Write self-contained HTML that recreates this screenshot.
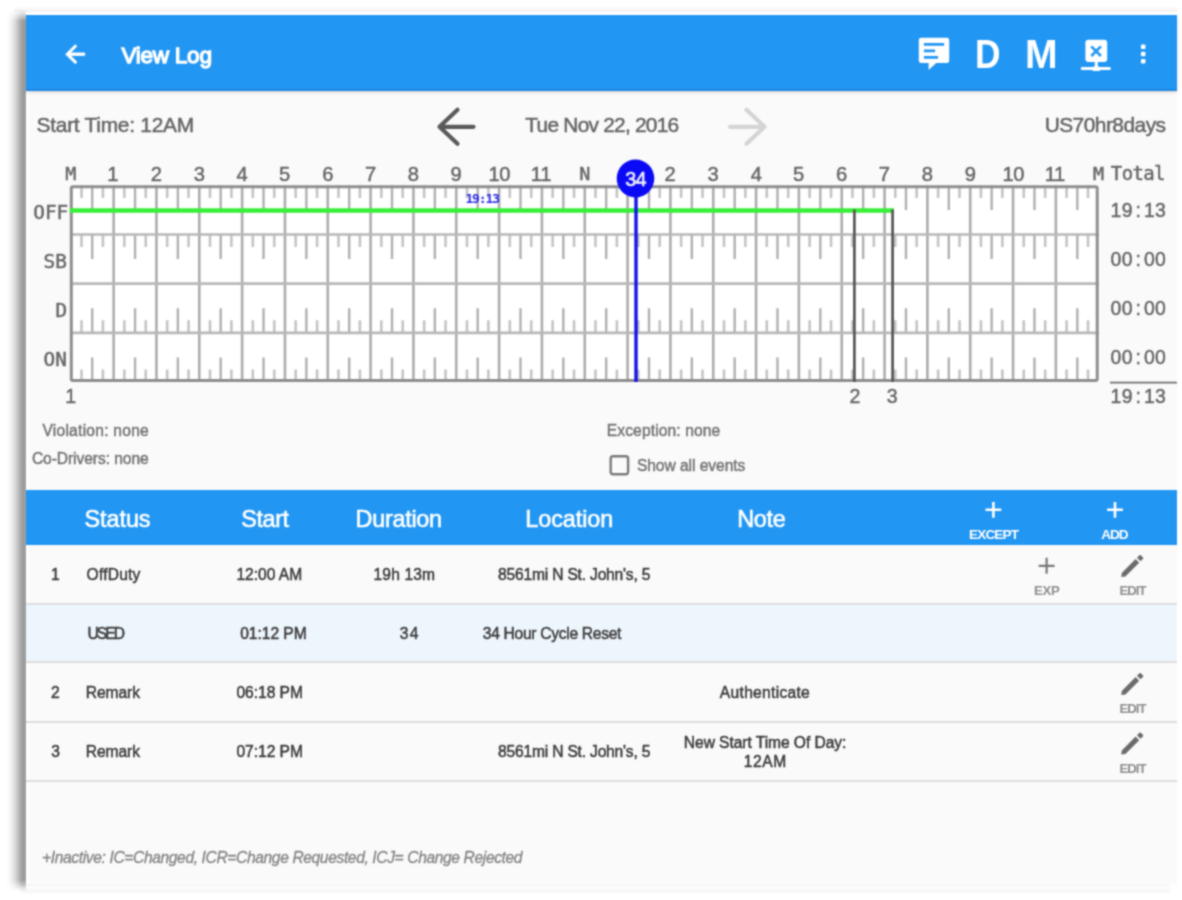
<!DOCTYPE html>
<html lang="en"><head><meta charset="utf-8"><title>View Log</title>
<meta name="viewport" content="width=1182, initial-scale=1">
<style>
*{box-sizing:border-box;margin:0;padding:0}
html,body{width:1182px;height:900px;background:#fff;overflow:hidden}
body{position:relative;font-family:"Liberation Sans",sans-serif;color:#333}
#app{position:absolute;left:0;top:0;width:1182px;height:900px;overflow:hidden;filter:url(#soft)}
.abs{position:absolute}
.t{position:absolute;white-space:nowrap;line-height:1}
.m{font-family:"DejaVu Sans Mono","Liberation Mono",monospace}
.t>i{display:inline-block;text-align:center;font-style:normal}
.b{font-weight:bold}
.i{font-style:italic}
.w{color:#fff}
.ms{-webkit-text-stroke:.45px}
.is{-webkit-text-stroke:.45px}
.bd{-webkit-text-stroke:.5px}
.hs{-webkit-text-stroke:.6px}
.ds{-webkit-text-stroke:.5px}
#shl{position:absolute;left:6px;top:10px;width:20px;height:881px;
  background:linear-gradient(to right,rgba(0,0,0,0) 0%,rgba(0,0,0,.03) 20%,rgba(0,0,0,.14) 45%,rgba(0,0,0,.33) 72%,rgba(0,0,0,.40) 88%,rgba(0,0,0,.36) 100%);
  -webkit-mask-image:linear-gradient(to bottom,transparent 0,#000 11px,#000 870px,transparent 881px);
  mask-image:linear-gradient(to bottom,transparent 0,#000 11px,#000 870px,transparent 881px)}
#sht{position:absolute;left:14px;top:6px;width:1163px;height:6px;background:linear-gradient(to bottom,rgba(0,0,0,0),rgba(0,0,0,.06))}
#shb{position:absolute;left:20px;top:883px;width:1150px;height:12px;
  background:linear-gradient(to bottom,rgba(0,0,0,.02) 0,rgba(0,0,0,.045) 18%,rgba(0,0,0,0) 38%,rgba(0,0,0,.04) 58%,rgba(0,0,0,0) 100%)}
#frame{position:absolute;left:26px;top:12px;width:1151.4px;height:871.5px;background:#fff}
#content{position:absolute;left:28.5px;top:90px;width:1148.6px;height:793.5px;background:#fafafa}
#bar{position:absolute;left:26px;top:14.6px;width:1151.4px;height:76px;background:#2196f3;box-shadow:0 1.5px 3px rgba(60,20,0,.16),inset 0 -3px 2px -1px rgba(0,0,60,.10)}
#thead{position:absolute;left:26px;top:489.6px;width:1151.4px;height:55px;background:#2196f3}
.row{position:absolute;left:26px;width:1151.4px;border-bottom:2px solid #dedede}
</style></head><body>
<svg width="0" height="0" style="position:absolute"><defs><filter id="soft" x="0" y="0" width="100%" height="100%" color-interpolation-filters="sRGB"><feConvolveMatrix order="5" kernelMatrix="0.0002 0.0033 0.0081 0.0033 0.0002 0.0033 0.0479 0.1164 0.0479 0.0033 0.0081 0.1164 0.2831 0.1164 0.0081 0.0033 0.0479 0.1164 0.0479 0.0033 0.0002 0.0033 0.0081 0.0033 0.0002" edgeMode="duplicate" preserveAlpha="false"/></filter></defs></svg>
<div id="app">
<div id="shl"></div><div id="sht"></div><div id="shb"></div>
<div id="frame"></div><div id="content"></div>
<div id="bar"></div>
<div id="thead"></div>
<div class="row" style="top:544.6px;height:60.2px"></div>
<div class="row" style="top:604.8px;height:58px;background:#eef6fd"></div>
<div class="row" style="top:662.8px;height:59.8px"></div>
<div class="row" style="top:722.6px;height:59.4px"></div>
<svg class="abs" style="left:0;top:0" width="1182" height="900" viewBox="0 0 1182 900">
<rect x="69.8" y="185.3" width="1028.92" height="196.8" fill="#fff"/>
<path d="M81.51 185.3v12.6M102.92 185.3v12.6M124.34 185.3v12.6M145.75 185.3v12.6M167.17 185.3v12.6M188.58 185.3v12.6M210 185.3v12.6M231.41 185.3v12.6M252.83 185.3v12.6M274.24 185.3v12.6M295.66 185.3v12.6M317.07 185.3v12.6M338.49 185.3v12.6M359.9 185.3v12.6M381.32 185.3v12.6M402.73 185.3v12.6M424.15 185.3v12.6M445.56 185.3v12.6M466.98 185.3v12.6M488.39 185.3v12.6M509.81 185.3v12.6M531.22 185.3v12.6M552.64 185.3v12.6M574.05 185.3v12.6M595.47 185.3v12.6M616.88 185.3v12.6M638.3 185.3v12.6M659.71 185.3v12.6M681.13 185.3v12.6M702.54 185.3v12.6M723.96 185.3v12.6M745.37 185.3v12.6M766.79 185.3v12.6M788.2 185.3v12.6M809.62 185.3v12.6M831.03 185.3v12.6M852.45 185.3v12.6M873.86 185.3v12.6M895.28 185.3v12.6M916.69 185.3v12.6M938.11 185.3v12.6M959.52 185.3v12.6M980.94 185.3v12.6M1002.35 185.3v12.6M1023.77 185.3v12.6M1045.18 185.3v12.6M1066.6 185.3v12.6M1088.01 185.3v12.6M81.51 234.5v12.6M102.92 234.5v12.6M124.34 234.5v12.6M145.75 234.5v12.6M167.17 234.5v12.6M188.58 234.5v12.6M210 234.5v12.6M231.41 234.5v12.6M252.83 234.5v12.6M274.24 234.5v12.6M295.66 234.5v12.6M317.07 234.5v12.6M338.49 234.5v12.6M359.9 234.5v12.6M381.32 234.5v12.6M402.73 234.5v12.6M424.15 234.5v12.6M445.56 234.5v12.6M466.98 234.5v12.6M488.39 234.5v12.6M509.81 234.5v12.6M531.22 234.5v12.6M552.64 234.5v12.6M574.05 234.5v12.6M595.47 234.5v12.6M616.88 234.5v12.6M638.3 234.5v12.6M659.71 234.5v12.6M681.13 234.5v12.6M702.54 234.5v12.6M723.96 234.5v12.6M745.37 234.5v12.6M766.79 234.5v12.6M788.2 234.5v12.6M809.62 234.5v12.6M831.03 234.5v12.6M852.45 234.5v12.6M873.86 234.5v12.6M895.28 234.5v12.6M916.69 234.5v12.6M938.11 234.5v12.6M959.52 234.5v12.6M980.94 234.5v12.6M1002.35 234.5v12.6M1023.77 234.5v12.6M1045.18 234.5v12.6M1066.6 234.5v12.6M1088.01 234.5v12.6M81.51 332.9v-12.6M102.92 332.9v-12.6M124.34 332.9v-12.6M145.75 332.9v-12.6M167.17 332.9v-12.6M188.58 332.9v-12.6M210 332.9v-12.6M231.41 332.9v-12.6M252.83 332.9v-12.6M274.24 332.9v-12.6M295.66 332.9v-12.6M317.07 332.9v-12.6M338.49 332.9v-12.6M359.9 332.9v-12.6M381.32 332.9v-12.6M402.73 332.9v-12.6M424.15 332.9v-12.6M445.56 332.9v-12.6M466.98 332.9v-12.6M488.39 332.9v-12.6M509.81 332.9v-12.6M531.22 332.9v-12.6M552.64 332.9v-12.6M574.05 332.9v-12.6M595.47 332.9v-12.6M616.88 332.9v-12.6M638.3 332.9v-12.6M659.71 332.9v-12.6M681.13 332.9v-12.6M702.54 332.9v-12.6M723.96 332.9v-12.6M745.37 332.9v-12.6M766.79 332.9v-12.6M788.2 332.9v-12.6M809.62 332.9v-12.6M831.03 332.9v-12.6M852.45 332.9v-12.6M873.86 332.9v-12.6M895.28 332.9v-12.6M916.69 332.9v-12.6M938.11 332.9v-12.6M959.52 332.9v-12.6M980.94 332.9v-12.6M1002.35 332.9v-12.6M1023.77 332.9v-12.6M1045.18 332.9v-12.6M1066.6 332.9v-12.6M1088.01 332.9v-12.6M81.51 382.1v-12.6M102.92 382.1v-12.6M124.34 382.1v-12.6M145.75 382.1v-12.6M167.17 382.1v-12.6M188.58 382.1v-12.6M210 382.1v-12.6M231.41 382.1v-12.6M252.83 382.1v-12.6M274.24 382.1v-12.6M295.66 382.1v-12.6M317.07 382.1v-12.6M338.49 382.1v-12.6M359.9 382.1v-12.6M381.32 382.1v-12.6M402.73 382.1v-12.6M424.15 382.1v-12.6M445.56 382.1v-12.6M466.98 382.1v-12.6M488.39 382.1v-12.6M509.81 382.1v-12.6M531.22 382.1v-12.6M552.64 382.1v-12.6M574.05 382.1v-12.6M595.47 382.1v-12.6M616.88 382.1v-12.6M638.3 382.1v-12.6M659.71 382.1v-12.6M681.13 382.1v-12.6M702.54 382.1v-12.6M723.96 382.1v-12.6M745.37 382.1v-12.6M766.79 382.1v-12.6M788.2 382.1v-12.6M809.62 382.1v-12.6M831.03 382.1v-12.6M852.45 382.1v-12.6M873.86 382.1v-12.6M895.28 382.1v-12.6M916.69 382.1v-12.6M938.11 382.1v-12.6M959.52 382.1v-12.6M980.94 382.1v-12.6M1002.35 382.1v-12.6M1023.77 382.1v-12.6M1045.18 382.1v-12.6M1066.6 382.1v-12.6M1088.01 382.1v-12.6" stroke="#c4c4c4" stroke-width="2.6" fill="none"/>
<path d="M92.22 185.3v24.6M135.05 185.3v24.6M177.88 185.3v24.6M220.7 185.3v24.6M263.53 185.3v24.6M306.37 185.3v24.6M349.19 185.3v24.6M392.02 185.3v24.6M434.86 185.3v24.6M477.69 185.3v24.6M520.51 185.3v24.6M563.34 185.3v24.6M606.17 185.3v24.6M649 185.3v24.6M691.83 185.3v24.6M734.66 185.3v24.6M777.49 185.3v24.6M820.32 185.3v24.6M863.15 185.3v24.6M905.98 185.3v24.6M948.81 185.3v24.6M991.64 185.3v24.6M1034.47 185.3v24.6M1077.31 185.3v24.6M92.22 234.5v24.6M135.05 234.5v24.6M177.88 234.5v24.6M220.7 234.5v24.6M263.53 234.5v24.6M306.37 234.5v24.6M349.19 234.5v24.6M392.02 234.5v24.6M434.86 234.5v24.6M477.69 234.5v24.6M520.51 234.5v24.6M563.34 234.5v24.6M606.17 234.5v24.6M649 234.5v24.6M691.83 234.5v24.6M734.66 234.5v24.6M777.49 234.5v24.6M820.32 234.5v24.6M863.15 234.5v24.6M905.98 234.5v24.6M948.81 234.5v24.6M991.64 234.5v24.6M1034.47 234.5v24.6M1077.31 234.5v24.6M92.22 332.9v-24.6M135.05 332.9v-24.6M177.88 332.9v-24.6M220.7 332.9v-24.6M263.53 332.9v-24.6M306.37 332.9v-24.6M349.19 332.9v-24.6M392.02 332.9v-24.6M434.86 332.9v-24.6M477.69 332.9v-24.6M520.51 332.9v-24.6M563.34 332.9v-24.6M606.17 332.9v-24.6M649 332.9v-24.6M691.83 332.9v-24.6M734.66 332.9v-24.6M777.49 332.9v-24.6M820.32 332.9v-24.6M863.15 332.9v-24.6M905.98 332.9v-24.6M948.81 332.9v-24.6M991.64 332.9v-24.6M1034.47 332.9v-24.6M1077.31 332.9v-24.6M92.22 382.1v-24.6M135.05 382.1v-24.6M177.88 382.1v-24.6M220.7 382.1v-24.6M263.53 382.1v-24.6M306.37 382.1v-24.6M349.19 382.1v-24.6M392.02 382.1v-24.6M434.86 382.1v-24.6M477.69 382.1v-24.6M520.51 382.1v-24.6M563.34 382.1v-24.6M606.17 382.1v-24.6M649 382.1v-24.6M691.83 382.1v-24.6M734.66 382.1v-24.6M777.49 382.1v-24.6M820.32 382.1v-24.6M863.15 382.1v-24.6M905.98 382.1v-24.6M948.81 382.1v-24.6M991.64 382.1v-24.6M1034.47 382.1v-24.6M1077.31 382.1v-24.6" stroke="#b0b0b0" stroke-width="2.4" fill="none"/>
<path d="M113.63 185.3V382.1M156.46 185.3V382.1M199.29 185.3V382.1M242.12 185.3V382.1M284.95 185.3V382.1M327.78 185.3V382.1M370.61 185.3V382.1M413.44 185.3V382.1M456.27 185.3V382.1M499.1 185.3V382.1M541.93 185.3V382.1M584.76 185.3V382.1M627.59 185.3V382.1M670.42 185.3V382.1M713.25 185.3V382.1M756.08 185.3V382.1M798.91 185.3V382.1M841.74 185.3V382.1M884.57 185.3V382.1M927.4 185.3V382.1M970.23 185.3V382.1M1013.06 185.3V382.1M1055.89 185.3V382.1" stroke="#acacac" stroke-width="2.6" fill="none"/>
<path d="M70.8 234.5H1098.72M70.8 283.7H1098.72M70.8 332.9H1098.72" stroke="#b8b8b8" stroke-width="2.7" fill="none"/>
<rect x="71.3" y="186.8" width="1025.92" height="193.8" rx="1.5" fill="none" stroke="#8e8e8e" stroke-width="3"/>
<path d="M69.8 210.5H893.8" stroke="#36ef36" stroke-width="4.4" fill="none"/>
<path d="M854.4 209.5V382M892.6 209.5V382" stroke="#555" stroke-width="2.7" fill="none"/>
<path d="M636 190V382" stroke="#1212ea" stroke-width="3.4" fill="none"/>
<ellipse cx="635.5" cy="178.5" rx="18.8" ry="19" fill="#0a0af5"/>
<g font-family="Liberation Sans, sans-serif" font-size="19.4" fill="#666" stroke="#666" stroke-width=".45">
<text x="1110.48 1121.63 1135.48 1143.93 1155.08" y="216.9">19:13</text>
<text x="1110.48 1121.63 1135.48 1143.93 1155.08" y="266.2">00:00</text>
<text x="1110.48 1121.63 1135.48 1143.93 1155.08" y="315.2">00:00</text>
<text x="1110.48 1121.63 1135.48 1143.93 1155.08" y="364.2">00:00</text>
<text x="1110.48 1121.63 1135.48 1143.93 1155.08" y="403">19:13</text>
</g>
<path d="M1110 382.6H1177" stroke="#6e6e6e" stroke-width="1.8" fill="none"/>
</svg>
<svg class="abs" style="left:0;top:0" width="1182" height="900" viewBox="0 0 1182 900">
<!-- back arrow -->
<g transform="translate(60.9,39.9) scale(1.19)" fill="#fff" stroke="#fff" stroke-width=".8"><path d="M20 11H7.83l5.59-5.59L12 4l-8 8 8 8 1.41-1.41L7.83 13H20v-2z"/></g>
<!-- chat icon -->
<path d="M921.2 37.7h25.6a2.4 2.4 0 0 1 2.4 2.4v20.6a2.4 2.4 0 0 1-2.4 2.4h-10.6l-7.6 6.8v-6.8h-7.4a2.4 2.4 0 0 1-2.4-2.4V40.1a2.4 2.4 0 0 1 2.4-2.4z" fill="#fff"/>
<path d="M923.9 44.3h20.2M923.9 50.8h11.2M923.9 57.3h14.2" stroke="#2196f3" stroke-width="2.7" fill="none"/>
<!-- network icon -->
<rect x="1085.4" y="39.7" width="21.8" height="22.3" rx="3" fill="#fff"/>
<path d="M1091.3 46.4l9.6 9.6M1100.900 46.4l-9.6 9.6" stroke="#2196f3" stroke-width="2.6" fill="none"/>
<path d="M1096.3 61v7" stroke="#fff" stroke-width="3" fill="none"/>
<path d="M1082.2 68.4h27.2" stroke="#fff" stroke-width="3" stroke-linecap="round" fill="none"/>
<rect x="1092.3" y="66.6" width="8" height="4.4" rx="1.5" fill="#fff"/>
<!-- overflow dots -->
<rect x="1140.9" y="44.5" width="4.6" height="4.6" rx="1.2" fill="#fff"/>
<rect x="1140.9" y="51.7" width="4.6" height="4.6" rx="1.2" fill="#fff"/>
<rect x="1140.9" y="58.9" width="4.6" height="4.6" rx="1.2" fill="#fff"/>
<!-- date nav arrows -->
<path d="M473.500 126.800H440M457.500 109.800L439.500 126.800L457.500 143.800" stroke="#5a5a5a" stroke-width="4.2" fill="none" stroke-linecap="round" stroke-linejoin="round"/>
<path d="M730 126.800H763.500M746.500 109.800L764.500 126.800L746.500 143.800" stroke="#d4d4d4" stroke-width="4.2" fill="none" stroke-linecap="round" stroke-linejoin="round"/>
<!-- checkbox -->
<rect x="610.700" y="456.200" width="17.400" height="18" rx="2.400" fill="none" stroke="#7a7a7a" stroke-width="2.400"/>
<!-- header plus icons -->
<path d="M985.500 509.800h15.800M993.400 501.900v15.800M1107.100 509.800h15.800M1115 501.900v15.800" stroke="#fff" stroke-width="2.600" fill="none"/>
<!-- row plus icon -->
<path d="M1038.600 565.800h16M1046.600 557.800v16" stroke="#777" stroke-width="2.200" fill="none"/>
<!-- pencils -->
<g fill="#6b6b6b">
<g transform="translate(1118.1,551.4) scale(1.2) translate(12 12) rotate(-45) scale(1.04 .8) rotate(45) translate(-12 -12)"><path d="M3 17.250V21h3.750L17.810 9.940l-3.750-3.750L3 17.250zM20.710 7.040c.39-.39.39-1.020 0-1.410l-2.340-2.340c-.39-.39-1.020-.39-1.410 0l-1.830 1.830 3.750 3.750 1.830-1.830z"/></g>
<g transform="translate(1118.1,669.4) scale(1.2) translate(12 12) rotate(-45) scale(1.04 .8) rotate(45) translate(-12 -12)"><path d="M3 17.250V21h3.750L17.810 9.940l-3.750-3.750L3 17.250zM20.710 7.040c.39-.39.39-1.020 0-1.410l-2.340-2.340c-.39-.39-1.020-.39-1.410 0l-1.830 1.830 3.750 3.750 1.830-1.830z"/></g>
<g transform="translate(1118.1,728.9) scale(1.2) translate(12 12) rotate(-45) scale(1.04 .8) rotate(45) translate(-12 -12)"><path d="M3 17.250V21h3.750L17.810 9.940l-3.750-3.750L3 17.250zM20.710 7.040c.39-.39.39-1.020 0-1.410l-2.340-2.340c-.39-.39-1.020-.39-1.410 0l-1.830 1.830 3.750 3.750 1.830-1.830z"/></g>
</g>
</svg>

<header aria-label="App bar">
<span id="t0" class="t w" style="font-size:22.6px;left:121.47px;top:44.7px;letter-spacing:-0.292px;-webkit-text-stroke:1.3px #fff">View Log</span>
<span id="t1" class="t b w" style="font-size:41px;left:975.05px;top:33.8px;transform:scaleX(.86);transform-origin:0 0">D</span>
<span id="t2" class="t b w" style="font-size:41px;left:1025.16px;top:33.8px;transform:scaleX(.955);transform-origin:0 0">M</span>
</header>
<nav aria-label="Log date">
<span id="t3" class="t ds" style="font-size:20.9px;left:36.54px;top:115px;letter-spacing:-0.249px;color:#666">Start Time: 12AM</span>
<span id="t4" class="t ds" style="font-size:20.9px;left:525.36px;top:115px;letter-spacing:-0.767px;color:#666">Tue Nov 22, 2016</span>
<span id="t5" class="t ds" style="font-size:20.9px;left:1044.63px;top:115px;letter-spacing:-0.518px;color:#666">US70hr8days</span>
</nav>
<section aria-label="Duty status graph">
<span id="t6" class="t m ms" style="font-size:18.4px;left:65.18px;top:165.4px;color:#666">M</span>
<span id="t7" class="t ms" style="font-size:20.2px;left:107.18px;top:163.5px;color:#666">1</span>
<span id="t8" class="t ms" style="font-size:20.2px;left:150.87px;top:163.5px;color:#666">2</span>
<span id="t9" class="t ms" style="font-size:20.2px;left:193.7px;top:163.5px;color:#666">3</span>
<span id="t10" class="t ms" style="font-size:20.2px;left:236.48px;top:163.5px;color:#666">4</span>
<span id="t11" class="t ms" style="font-size:20.2px;left:279.11px;top:163.5px;color:#666">5</span>
<span id="t12" class="t ms" style="font-size:20.2px;left:322.13px;top:163.5px;color:#666">6</span>
<span id="t13" class="t ms" style="font-size:20.2px;left:364.98px;top:163.5px;color:#666">7</span>
<span id="t14" class="t ms" style="font-size:20.2px;left:407.86px;top:163.5px;color:#666">8</span>
<span id="t15" class="t ms" style="font-size:20.2px;left:450.52px;top:163.5px;color:#666">9</span>
<span id="t16" class="t ms" style="font-size:20.2px;left:488.39px;top:163.5px;color:#666;letter-spacing:-.43px">10</span>
<span id="t17" class="t ms" style="font-size:20.2px;left:530.87px;top:163.5px;color:#666;letter-spacing:-.43px">11</span>
<span id="t18" class="t m ms" style="font-size:18.4px;left:579.13px;top:165.4px;color:#666">N</span>
<span id="t19" class="t ms" style="font-size:20.2px;left:664.48px;top:163.5px;color:#666">2</span>
<span id="t20" class="t ms" style="font-size:20.2px;left:707.62px;top:163.5px;color:#666">3</span>
<span id="t21" class="t ms" style="font-size:20.2px;left:750.7px;top:163.5px;color:#666">4</span>
<span id="t22" class="t ms" style="font-size:20.2px;left:792.91px;top:163.5px;color:#666">5</span>
<span id="t23" class="t ms" style="font-size:20.2px;left:835.93px;top:163.5px;color:#666">6</span>
<span id="t24" class="t ms" style="font-size:20.2px;left:878.78px;top:163.5px;color:#666">7</span>
<span id="t25" class="t ms" style="font-size:20.2px;left:921.66px;top:163.5px;color:#666">8</span>
<span id="t26" class="t ms" style="font-size:20.2px;left:964.65px;top:163.5px;color:#666">9</span>
<span id="t27" class="t ms" style="font-size:20.2px;left:1002.42px;top:163.5px;color:#666;letter-spacing:-.43px">10</span>
<span id="t28" class="t ms" style="font-size:20.2px;left:1044.8px;top:163.5px;color:#666;letter-spacing:-.43px">11</span>
<span id="t29" class="t m ms" style="font-size:18.4px;left:1093px;top:165.4px;color:#666">M</span>
<span id="t30" class="t" style="font-size:19.8px;left:625.28px;top:170.2px;letter-spacing:-0.684px;color:#ececff;-webkit-text-stroke:.7px #ececff">34</span>
<span id="t31" class="t m ms" style="font-size:19px;left:1110.86px;top:164.4px;letter-spacing:-0.623px;color:#666">Total</span>
<span id="t32" class="t m ms" style="font-size:19.4px;left:33.21px;top:203px;color:#666">OFF</span>
<span id="t33" class="t m ms" style="font-size:19.4px;left:43.54px;top:252px;color:#666">SB</span>
<span id="t34" class="t m ms" style="font-size:19.4px;left:55.6px;top:301px;color:#666">D</span>
<span id="t35" class="t m ms" style="font-size:19.4px;left:43.55px;top:350px;color:#666">ON</span>
<span id="t36" class="t m b" style="font-size:13px;left:465.41px;top:192.3px;letter-spacing:-1.113px;color:#2a2ae6">19:13</span>
<span id="t37" class="t ms" style="font-size:19.6px;left:65.25px;top:387.2px;color:#666">1</span>
<span id="t38" class="t ms" style="font-size:19.6px;left:849.58px;top:387.2px;color:#666">2</span>
<span id="t39" class="t ms" style="font-size:19.6px;left:886.78px;top:387.2px;color:#666">3</span>
</section>
<section aria-label="Log details">
<span id="t40" class="t is" style="font-size:15.6px;left:42.41px;top:422.8px;letter-spacing:0.249px;color:#747474">Violation: none</span>
<span id="t41" class="t is" style="font-size:15.6px;left:31.88px;top:450.9px;letter-spacing:-0.072px;color:#747474">Co-Drivers: none</span>
<span id="t42" class="t is" style="font-size:15.6px;left:606.78px;top:422.9px;letter-spacing:0.116px;color:#747474">Exception: none</span>
<span id="t43" class="t is" style="font-size:15.6px;left:636.91px;top:457.9px;letter-spacing:-0.056px;color:#747474">Show all events</span>
</section>
<section aria-label="Events header">
<span id="t44" class="t w hs" style="font-size:23.4px;left:84.56px;top:508.4px;letter-spacing:-0.065px;">Status</span>
<span id="t45" class="t w hs" style="font-size:23.4px;left:241.24px;top:508.4px;letter-spacing:-0.378px;">Start</span>
<span id="t46" class="t w hs" style="font-size:23.4px;left:355.53px;top:508.4px;letter-spacing:-0.263px;">Duration</span>
<span id="t47" class="t w hs" style="font-size:23.4px;left:525.28px;top:508.4px;letter-spacing:-0.054px;">Location</span>
<span id="t48" class="t w hs" style="font-size:23.4px;left:737.28px;top:508.4px;letter-spacing:-0.310px;">Note</span>
<span id="t49" class="t b w" style="font-size:13.6px;left:969.1px;top:528.1px;letter-spacing:-0.891px;">EXCEPT</span>
<span id="t50" class="t b w" style="font-size:13.6px;left:1101.33px;top:528.1px;letter-spacing:-1.129px;">ADD</span>
</section>
<section aria-label="Events">
<span id="t51" class="t bd" style="font-size:15.6px;left:50.92px;top:566.6px;color:#3c3c3c">1</span>
<span id="t52" class="t bd" style="font-size:15.6px;left:86.57px;top:566.6px;letter-spacing:0.207px;color:#3c3c3c">OffDuty</span>
<span id="t53" class="t bd" style="font-size:15.6px;left:236.43px;top:566.6px;letter-spacing:-0.010px;color:#3c3c3c">12:00 AM</span>
<span id="t54" class="t bd" style="font-size:15.6px;left:373.53px;top:566.6px;letter-spacing:0.138px;color:#3c3c3c">19h 13m</span>
<span id="t55" class="t bd" style="font-size:15.6px;left:498.07px;top:566.6px;letter-spacing:-0.192px;color:#3c3c3c">8561mi N St. John's, 5</span>
<span id="t56" class="t bd" style="font-size:15.6px;left:87.52px;top:626.2px;letter-spacing:-1.929px;color:#3c3c3c">USED</span>
<span id="t57" class="t bd" style="font-size:15.6px;left:240.26px;top:626.2px;letter-spacing:-0.052px;color:#3c3c3c">01:12 PM</span>
<span id="t58" class="t bd" style="font-size:15.6px;left:399.86px;top:626.2px;letter-spacing:1.236px;color:#3c3c3c">34</span>
<span id="t59" class="t bd" style="font-size:15.6px;left:482.78px;top:626.2px;letter-spacing:-0.288px;color:#3c3c3c">34 Hour Cycle Reset</span>
<span id="t60" class="t bd" style="font-size:15.6px;left:51.02px;top:684.6px;color:#3c3c3c">2</span>
<span id="t61" class="t bd" style="font-size:15.6px;left:85.76px;top:684.6px;letter-spacing:-0.059px;color:#3c3c3c">Remark</span>
<span id="t62" class="t bd" style="font-size:15.6px;left:236.42px;top:684.6px;letter-spacing:-0.029px;color:#3c3c3c">06:18 PM</span>
<span id="t63" class="t bd" style="font-size:15.6px;left:51.16px;top:744px;color:#3c3c3c">3</span>
<span id="t64" class="t bd" style="font-size:15.6px;left:85.76px;top:744px;letter-spacing:-0.059px;color:#3c3c3c">Remark</span>
<span id="t65" class="t bd" style="font-size:15.6px;left:236.42px;top:744px;letter-spacing:-0.029px;color:#3c3c3c">07:12 PM</span>
<span id="t66" class="t bd" style="font-size:15.6px;left:498.07px;top:744px;letter-spacing:-0.192px;color:#3c3c3c">8561mi N St. John's, 5</span>
<span id="t67" class="t bd" style="font-size:15.6px;left:719.85px;top:684.6px;letter-spacing:0.295px;color:#3c3c3c">Authenticate</span>
<span id="t68" class="t bd" style="font-size:15.6px;left:683.83px;top:735px;letter-spacing:-0.059px;color:#3c3c3c">New Start Time Of Day:</span>
<span id="t69" class="t bd" style="font-size:15.6px;left:743.83px;top:753.6px;letter-spacing:0.549px;color:#3c3c3c">12AM</span>
<span id="t70" class="t b" style="font-size:13.2px;left:1034.02px;top:584.3px;letter-spacing:-0.358px;color:#8e8e8e">EXP</span>
<span id="t71" class="t b" style="font-size:13.2px;left:1119.44px;top:584.3px;letter-spacing:-0.951px;color:#8e8e8e">EDIT</span>
<span id="t72" class="t b" style="font-size:13.2px;left:1119.44px;top:702.3px;letter-spacing:-0.951px;color:#8e8e8e">EDIT</span>
<span id="t73" class="t b" style="font-size:13.2px;left:1119.44px;top:761.8px;letter-spacing:-0.951px;color:#8e8e8e">EDIT</span>
</section>
<footer aria-label="Legend">
<span id="t74" class="t i" style="font-size:15.6px;left:42.08px;top:850.2px;letter-spacing:-0.376px;color:#878787;-webkit-text-stroke:.35px">+Inactive: IC=Changed, ICR=Change Requested, ICJ= Change Rejected</span>
</footer>
</div>
</body></html>
